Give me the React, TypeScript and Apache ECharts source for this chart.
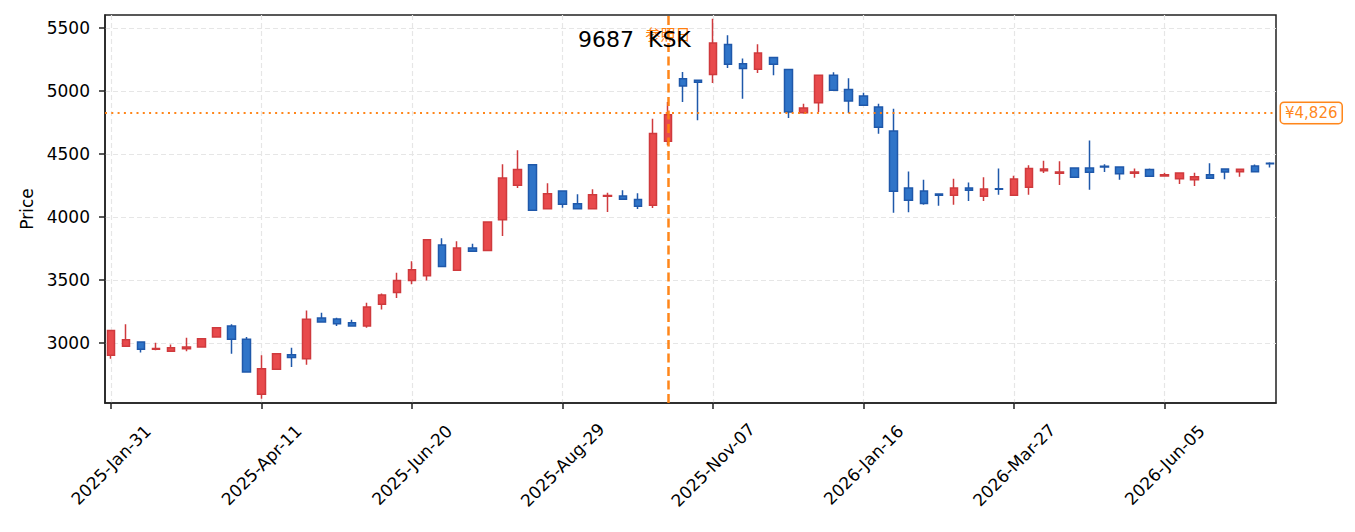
import React, { useEffect, useRef } from "react";
import * as echarts from "echarts";

const dates = [
  "2025-Jan-31", "2025-Feb-07", "2025-Feb-14", "2025-Feb-21", "2025-Feb-28", "2025-Mar-07", "2025-Mar-14", "2025-Mar-21", "2025-Mar-28", "2025-Apr-04",
  "2025-Apr-11", "2025-Apr-18", "2025-Apr-25", "2025-May-02", "2025-May-09", "2025-May-16", "2025-May-23", "2025-May-30", "2025-Jun-06", "2025-Jun-13",
  "2025-Jun-20", "2025-Jun-27", "2025-Jul-04", "2025-Jul-11", "2025-Jul-18", "2025-Jul-25", "2025-Aug-01", "2025-Aug-08", "2025-Aug-15", "2025-Aug-22",
  "2025-Aug-29", "2025-Sep-05", "2025-Sep-12", "2025-Sep-19", "2025-Sep-26", "2025-Oct-03", "2025-Oct-10", "2025-Oct-17", "2025-Oct-24", "2025-Oct-31",
  "2025-Nov-07", "2025-Nov-14", "2025-Nov-21", "2025-Nov-28", "2025-Dec-05", "2025-Dec-12", "2025-Dec-19", "2025-Dec-26", "2026-Jan-02", "2026-Jan-09",
  "2026-Jan-16", "2026-Jan-23", "2026-Jan-30", "2026-Feb-06", "2026-Feb-13", "2026-Feb-20", "2026-Feb-27", "2026-Mar-06", "2026-Mar-13", "2026-Mar-20",
  "2026-Mar-27", "2026-Apr-03", "2026-Apr-10", "2026-Apr-17", "2026-Apr-24", "2026-May-01", "2026-May-08", "2026-May-15", "2026-May-22", "2026-May-29",
  "2026-Jun-05", "2026-Jun-12", "2026-Jun-19", "2026-Jun-26", "2026-Jul-03", "2026-Jul-10", "2026-Jul-17", "2026-Jul-24",
];

const opens = [
  2902, 2975, 3008, 2950, 2935, 2955, 2968, 3048, 3135, 3029,
  2593, 2791, 2907, 2876, 3198, 3190, 3161, 3135, 3307, 3400,
  3497, 3534, 3778, 3577, 3754, 3735, 3979, 4251, 4415, 4066,
  4206, 4106, 4066, 4165, 4167, 4138, 4093, 4601, 5098, 5085,
  5130, 5368, 5217, 5172, 5265, 5170, 4828, 4907, 5124, 5011,
  4960, 4873, 4683, 4230, 4206, 4183, 4172, 4230, 4164, 4225,
  4172, 4236, 4368, 4347, 4389, 4389, 4402, 4397, 4347, 4376,
  4326, 4304, 4296, 4336, 4381, 4360, 4405, 4426,
];
const closes = [
  3100, 3025, 2950, 2957, 2962, 2968, 3034, 3122, 3029, 2770,
  2796, 2915, 2886, 3188, 3167, 3153, 3135, 3286, 3381, 3497,
  3582, 3820, 3608, 3754, 3728, 3960, 4310, 4376, 4053, 4185,
  4101, 4066, 4177, 4170, 4140, 4085, 4662, 4812, 5040, 5069,
  5381, 5212, 5178, 5302, 5212, 4833, 4865, 5124, 5005, 4921,
  4886, 4712, 4204, 4132, 4108, 4172, 4230, 4212, 4222, 4220,
  4302, 4384, 4381, 4357, 4315, 4355, 4397, 4344, 4357, 4323,
  4336, 4349, 4320, 4307, 4357, 4378, 4360, 4423,
];
const lows = [
  2876, 2972, 2925, 2942, 2933, 2934, 2966, 3046, 2915, 2768,
  2558, 2789, 2810, 2828, 3161, 3135, 3133, 3122, 3265, 3357,
  3466, 3497, 3606, 3575, 3726, 3733, 3849, 4230, 4051, 4064,
  4074, 4064, 4064, 4040, 4138, 4064, 4072, 4569, 4913, 4767,
  5064, 5183, 4939, 5143, 5124, 4786, 4820, 4833, 5003, 4825,
  4884, 4661, 4034, 4037, 4098, 4090, 4098, 4127, 4127, 4177,
  4170, 4177, 4349, 4254, 4313, 4217, 4357, 4296, 4312, 4321,
  4324, 4262, 4246, 4305, 4299, 4320, 4358, 4392,
];
const highs = [
  3105, 3148, 3010, 3003, 2988, 3042, 3040, 3125, 3148, 3048,
  2902, 2917, 2963, 3259, 3241, 3201, 3185, 3320, 3392, 3558,
  3648, 3822, 3831, 3807, 3788, 3962, 4418, 4529, 4417, 4267,
  4208, 4180, 4220, 4193, 4212, 4188, 4780, 4913, 5151, 5087,
  5574, 5442, 5257, 5370, 5267, 5172, 4899, 5126, 5148, 5101,
  4987, 4899, 4860, 4362, 4296, 4185, 4304, 4273, 4315, 4384,
  4328, 4410, 4447, 4442, 4391, 4608, 4418, 4399, 4384, 4384,
  4352, 4351, 4352, 4426, 4383, 4380, 4416, 4434,
];

const xTickIndices = [0, 10, 20, 30, 40, 50, 60, 70];
const yTicks = [3000, 3500, 4000, 4500, 5000, 5500];
const referenceIndex = 37;
const referencePrice = 4826;
const referenceLabel = "参照日";
const priceLabel = "¥4,826";
const titleText = "9687  KSK";

const FONT = "'DejaVu Sans', 'Noto Sans CJK JP', sans-serif";
const ORANGE = "#ff7f0e";

export default function App() {
  const ref = useRef<HTMLDivElement>(null);

  useEffect(() => {
    if (!ref.current) return;
    const chart = echarts.init(ref.current, undefined, { renderer: "svg" });
    const candles = opens.map((o, i) => [i, o, closes[i], lows[i], highs[i]]);
    const axisLineStyle = { color: "#222", width: 1.5 };
    const gridLine = { show: true, lineStyle: { color: "#e6e6e6", type: [5, 3], width: 1.2 } };

    chart.setOption({
      animation: false,
      textStyle: { fontFamily: FONT },
      title: {
        text: titleText,
        left: 578,
        top: 28,
        padding: 0,
        textStyle: { fontSize: 22, fontWeight: "normal", color: "#000", fontFamily: FONT },
      },
      grid: {
        left: 105,
        right: 79,
        top: 15,
        bottom: 129,
        show: true,
        borderColor: "#222",
        borderWidth: 1.5,
      },
      xAxis: {
        type: "value",
        min: -0.4,
        max: 77.4,
        axisLine: { show: true, onZero: false, lineStyle: axisLineStyle },
        axisTick: { show: true, length: 6, customValues: xTickIndices, lineStyle: axisLineStyle },
        axisLabel: {
          customValues: xTickIndices,
          formatter: (v: number) => dates[Math.round(v)] ?? "",
          rotate: 45,
          align: "center",
          verticalAlign: "middle",
          margin: 62,
          fontSize: 17,
          color: "#000",
          fontFamily: FONT,
        },
        splitLine: gridLine,
      },
      yAxis: {
        type: "value",
        min: 2524,
        max: 5603,
        name: "Price",
        nameLocation: "middle",
        nameGap: 67,
        nameTextStyle: { fontSize: 17, color: "#000", fontFamily: FONT },
        axisLine: { show: true, onZero: false, lineStyle: axisLineStyle },
        axisTick: { show: true, length: 6, customValues: yTicks, lineStyle: axisLineStyle },
        axisLabel: {
          customValues: yTicks,
          formatter: (v: number) => String(v),
          margin: 15,
          fontSize: 17,
          color: "#000",
          fontFamily: FONT,
        },
        splitLine: gridLine,
      },
      series: [
        {
          type: "candlestick",
          data: candles,
          encode: { x: 0, y: [1, 2, 3, 4] },
          barWidth: 8,
          itemStyle: {
            color: "#e84a4c",
            color0: "#2f74c8",
            borderColor: "#cf3a3d",
            borderColor0: "#1f58aa",
            borderWidth: 1.5,
          },
          markLine: {
            silent: true,
            symbol: ["none", "none"],
            data: [
              {
                xAxis: referenceIndex,
                lineStyle: { color: ORANGE, type: [9, 4.5], width: 2.5, opacity: 0.95 },
                label: { show: false },
              },
              {
                yAxis: referencePrice,
                lineStyle: { color: ORANGE, type: [2, 4.3], width: 2, opacity: 0.95 },
                label: {
                  show: true,
                  position: "end",
                  distance: 5,
                  formatter: priceLabel,
                  color: ORANGE,
                  fontSize: 15,
                  fontFamily: FONT,
                  backgroundColor: "#fff",
                  borderColor: ORANGE,
                  borderWidth: 1.5,
                  borderRadius: 3,
                  padding: [3, 4, 2, 4],
                },
              },
            ],
          },
          markPoint: {
            silent: true,
            symbol: "circle",
            symbolSize: 1,
            itemStyle: { color: "rgba(0,0,0,0)" },
            data: [
              {
                coord: [referenceIndex, 5455],
                label: {
                  show: true,
                  position: "inside",
                  formatter: referenceLabel,
                  color: ORANGE,
                  fontSize: 15,
                  fontFamily: "'Noto Sans CJK JP', sans-serif",
                },
              },
            ],
          },
        },
      ],
    });
    return () => chart.dispose();
  }, []);

  return (
    <div
      ref={ref}
      style={{ position: "fixed", left: 0, top: 0, width: 1355, height: 532, background: "#fff" }}
    />
  );
}
